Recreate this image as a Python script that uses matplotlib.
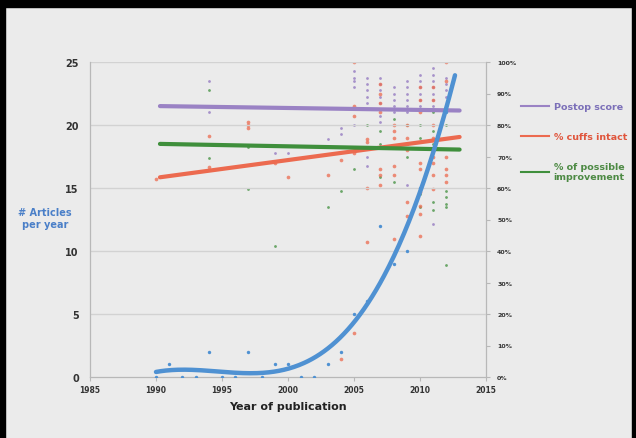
import numpy as np
import matplotlib
matplotlib.use("Agg")
import matplotlib.pyplot as plt
from matplotlib.patches import Rectangle
from matplotlib.lines import Line2D

# ---- data ----
years = [1990, 1991, 1992, 1993, 1994, 1995, 1996, 1997, 1998, 1999, 2000, 2001,
         2002, 2003, 2004, 2005, 2006, 2007, 2008, 2009, 2010, 2011, 2012]
articles = [0, 1, 0, 0, 2, 0, 0, 2, 0, 1, 1, 0, 0, 1, 2, 5, 6, 12, 9, 10, 15, 18, 21]

postop_x = [1994, 1994, 1999, 2000, 2003, 2004, 2004,
            2005, 2005, 2005, 2005, 2005,
            2006, 2006, 2006, 2006, 2006, 2006, 2006,
            2007, 2007, 2007, 2007, 2007, 2007, 2007, 2007,
            2008, 2008, 2008, 2008, 2008,
            2009, 2009, 2009, 2009, 2009, 2009, 2009,
            2010, 2010, 2010, 2010, 2010, 2010,
            2011, 2011, 2011, 2011, 2011, 2011, 2011, 2011,
            2012, 2012, 2012, 2012]
postop_y = [94, 84, 71, 71, 75.5, 79, 77,
            97, 95, 94, 92, 80,
            95, 93, 91, 89, 87, 70, 67,
            95, 93, 91, 89, 87, 85, 83, 81,
            92, 90, 88, 86, 84,
            94, 92, 90, 88, 86, 84, 61,
            96, 94, 92, 90, 88, 86,
            98, 96, 94, 92, 90, 88, 86, 48.6,
            95, 93, 91, 89]

cuffs_x = [1990, 1994, 1994, 1997, 1997, 1997, 1999, 2000, 2003, 2004, 2004,
           2005, 2005, 2005, 2005, 2005,
           2006, 2006, 2006, 2006,
           2007, 2007, 2007, 2007, 2007, 2007, 2007,
           2008, 2008, 2008, 2008, 2008, 2008,
           2009, 2009, 2009, 2009, 2009,
           2010, 2010, 2010, 2010, 2010, 2010, 2010, 2010, 2010,
           2011, 2011, 2011, 2011, 2011, 2011, 2011, 2011, 2011,
           2012, 2012, 2012, 2012, 2012, 2012]
cuffs_y = [63, 76.5, 66.7, 81, 80, 79, 68, 63.5, 64, 69, 5.7,
           100, 86, 83, 71, 14,
           75.5, 74.6, 60, 42.7,
           93, 90, 87, 84, 66, 64, 61,
           80, 78, 76, 67, 64, 43.8,
           80, 76, 72, 55.6, 51,
           92, 88, 84, 68, 66, 58.7, 54.3, 51.7, 44.8,
           92, 88, 80, 76, 72, 70, 68, 64, 59.7,
           100, 94, 70, 66, 64, 62]

improve_x = [1994, 1994, 1997, 1997, 1999, 2003, 2004, 2005,
             2006, 2006, 2007, 2007, 2007, 2008, 2008,
             2009, 2009, 2009, 2010, 2010, 2010, 2010,
             2011, 2011, 2011, 2011, 2011,
             2012, 2012, 2012, 2012, 2012, 2012, 2012]
improve_y = [91, 69.5, 73, 59.7, 41.6, 54, 59, 66,
             85, 80, 63.5, 78, 74, 82, 62,
             80, 74, 70, 80, 76, 58, 54,
             84, 78, 74, 55.6, 53,
             86, 80, 59, 57, 55, 54, 35.6]

trend_x = [1990.3, 2013.0]
postop_trend = [86.0, 84.6]
cuffs_trend = [63.4, 76.2]
improve_trend = [74.0, 72.2]

x_ticks = [1985, 1990, 1995, 2000, 2005, 2010, 2015]
left_ticks = [0, 5, 10, 15, 20, 25]
right_ticks = [0, 10, 20, 30, 40, 50, 60, 70, 80, 90, 100]

# ---- styling ----
BG = "#ebebeb"
C_BLUE = "#4f91d2"
C_PURPLE = "#9a82c4"
C_RED = "#ec6a4f"
C_GREEN = "#3f8f3c"
TXT = "#333333"

fig = plt.figure(figsize=(6.36, 4.39), dpi=100, facecolor=BG)
ax = fig.add_axes([90/636, 61/439, 396/636, 315/439])
ax.set_facecolor(BG)
ax2 = ax.twinx()

ax.set_xlim(1985, 2015)
ax.set_ylim(0, 25)
ax2.set_ylim(0, 100)

# gridlines
for v in left_ticks[1:]:
    ax.axhline(v, color="#d2d2d2", lw=1.0, zorder=0)

# scatter on right axis
ax2.scatter(postop_x, postop_y, s=4, color=C_PURPLE, alpha=0.85, zorder=3, linewidths=0)
ax2.scatter(improve_x, improve_y, s=4, color=C_GREEN, alpha=0.75, zorder=3, linewidths=0)
ax2.scatter(cuffs_x, cuffs_y, s=7, color=C_RED, alpha=0.75, zorder=3, linewidths=0)

# trend lines
ax2.plot(trend_x, postop_trend, color=C_PURPLE, lw=3, solid_capstyle="round", zorder=4)
ax2.plot(trend_x, cuffs_trend, color=C_RED, lw=3, solid_capstyle="round", zorder=4)
ax2.plot(trend_x, improve_trend, color=C_GREEN, lw=3, solid_capstyle="round", zorder=4)

# articles per year with cubic trend
ax.scatter(years, articles, s=6, color=C_BLUE, zorder=5, linewidths=0)
coef = np.polyfit(years, articles, 3)
xs = np.linspace(years[0], 2012.65, 300)
ax.plot(xs, np.polyval(coef, xs), color=C_BLUE, lw=3.2, solid_capstyle="round", zorder=6)
ax.set_zorder(ax2.get_zorder() + 1)
ax.patch.set_visible(False)
ax2.patch.set_facecolor(BG)

# spines
for a in (ax, ax2):
    a.spines["top"].set_visible(False)
    for s in ("left", "right", "bottom"):
        a.spines[s].set_color("#b8b8b8")
        a.spines[s].set_linewidth(0.9)
ax.spines["right"].set_visible(False)
ax2.spines["left"].set_visible(False)
ax2.spines["bottom"].set_visible(False)

ax.set_xticks(x_ticks)
ax.set_xticklabels([str(t) for t in x_ticks], fontsize=5.5, color=TXT, fontweight="bold")
ax.set_yticks(left_ticks)
ax.set_yticklabels([str(t) for t in left_ticks], fontsize=7, color=TXT, fontweight="bold")
ax2.set_yticks(right_ticks)
ax2.set_yticklabels([f"{t}%" for t in right_ticks], fontsize=4.5, color=TXT, fontweight="bold")
ax.tick_params(axis="x", length=3, color="#b8b8b8", pad=3)
ax.tick_params(axis="y", length=0, pad=8)
ax2.tick_params(axis="y", length=3, color="#b8b8b8", pad=5)

ax.set_xlabel("Year of publication", fontsize=8, fontweight="bold", color="#222222", labelpad=5)
ax.set_ylabel("# Articles\nper year", rotation=0, fontsize=7, fontweight="bold",
              color="#4a7fc8", va="center", ha="center", linespacing=1.2)
ax.yaxis.set_label_coords(-0.113, 0.505)

# legend
handles = [Line2D([], [], color=C_PURPLE, lw=1.5),
           Line2D([], [], color=C_RED, lw=1.5),
           Line2D([], [], color=C_GREEN, lw=1.5)]
labels = ["Postop score", "% cuffs intact", "% of possible\nimprovement"]
leg = fig.legend(handles, labels, loc="upper left", bbox_to_anchor=(512/636, 1 - 95/439),
                 frameon=False, handlelength=3.0, handletextpad=0.5,
                 labelspacing=2.2, prop={"weight": "bold", "size": 6.8},
                 labelcolor=["#7b6fb8", "#e0553c", "#4d8a44"])

# black photo frame
fig.patches.append(Rectangle((0, 1 - 8/439), 1, 8/439, transform=fig.transFigure,
                             color="black", zorder=10))
fig.patches.append(Rectangle((0, 0), 5/636, 1, transform=fig.transFigure,
                             color="black", zorder=10))
fig.patches.append(Rectangle((1 - 4/636, 0), 4/636, 1, transform=fig.transFigure,
                             color="black", zorder=10))

fig.savefig("out.png", dpi=100, facecolor=BG)
